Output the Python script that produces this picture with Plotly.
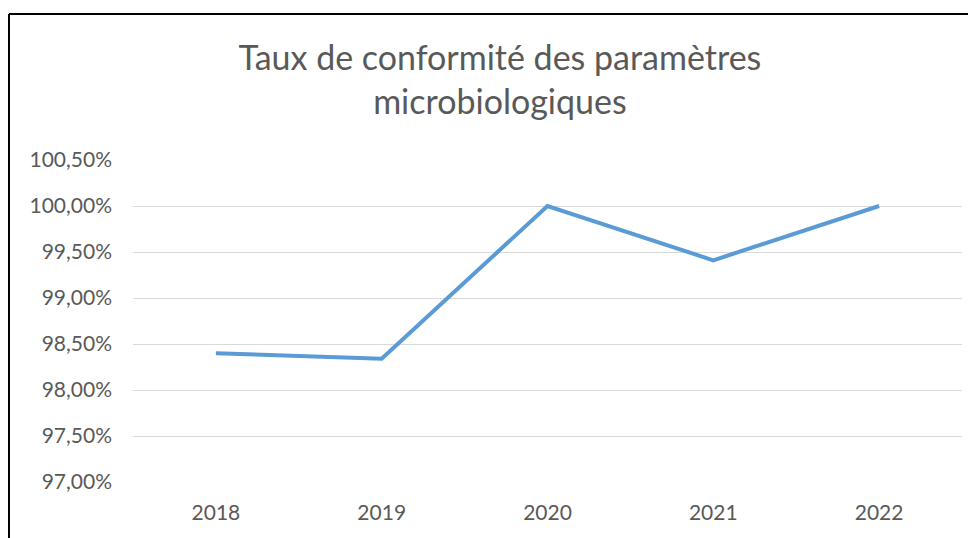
import plotly.graph_objects as go

years = ["2018", "2019", "2020", "2021", "2022"]
taux = [0.9840, 0.9834, 1.0000, 0.9941, 1.0000]
y_ticks = [0.97, 0.975, 0.98, 0.985, 0.99, 0.995, 1.0, 1.005]
y_labels = ["97,00%", "97,50%", "98,00%", "98,50%", "99,00%", "99,50%", "100,00%", "100,50%"]

gris = "#595959"

fig = go.Figure()
fig.add_trace(go.Scatter(
    x=years, y=taux, mode="lines",
    line=dict(color="#5B9BD5", width=4),
    showlegend=False,
))

# la page ajoute une marge de 8px autour du graphique
fig.update_layout(
    width=976, height=538,
    margin=dict(l=125, r=22, t=152, b=64),
    paper_bgcolor="white", plot_bgcolor="white",
    font=dict(family="Lato", color=gris),
    title=dict(
        text="Taux de conformité des paramètres<br>microbiologiques",
        x=0.504, xanchor="center", xref="container",
        y=0.885, yanchor="top", yref="container",
        font=dict(size=34, color=gris),
    ),
    xaxis=dict(
        type="category", range=[-0.5, 4.5],
        showgrid=False, zeroline=False, showline=False,
        tickfont=dict(size=21, color=gris),
        ticklabelstandoff=16, automargin=False,
    ),
    yaxis=dict(
        range=[0.97, 1.005],
        tickvals=y_ticks, ticktext=y_labels,
        showgrid=True, gridcolor="#D9D9D9", gridwidth=1,
        zeroline=False, showline=False,
        tickfont=dict(size=21, color=gris),
        ticklabelstandoff=20, automargin=False,
    ),
    shapes=[
        dict(type="line", xref="paper", yref="paper",
             x0=-0.1496, x1=1.1, y0=1.4534, y1=1.4534,
             line=dict(color="black", width=2)),
        dict(type="line", xref="paper", yref="paper",
             x0=-0.1496, x1=-0.1496, y0=1.4534, y1=-0.3,
             line=dict(color="black", width=2)),
    ],
)

fig.write_html("out.html")
